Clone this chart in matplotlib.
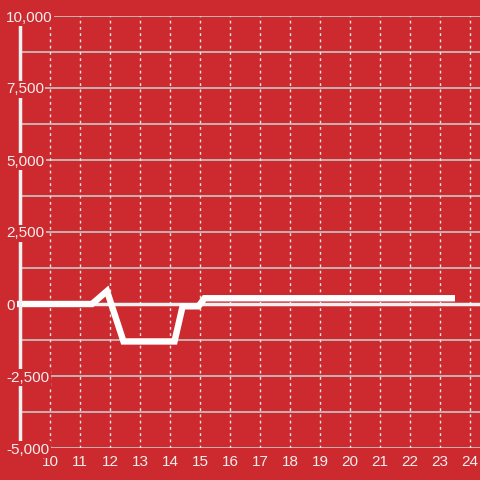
import matplotlib
matplotlib.use('Agg')
import matplotlib.pyplot as plt
import matplotlib.transforms as mtransforms

# data
hours = [8.9, 11.4, 11.9, 12.45, 14.15, 14.42, 14.95, 15.15, 23.5]
values = [0, 0, 450, -1300, -1300, -80, -80, 200, 200]

x_ticks = list(range(10, 25))
y_ticks = [10000, 7500, 5000, 2500, 0, -2500, -5000]
y_labels = ['10,000', '7,500', '5,000', '2,500', '0', '-2,500', '-5,000']
y_grid = [10000 - 1250 * i for i in range(13)]

bg = '#cc2a2f'
fg = '#f4eeee'

plt.rcParams['font.family'] = ['Liberation Sans', 'DejaVu Sans']

fig = plt.figure(figsize=(4.8, 4.8), dpi=100)
fig.patch.set_facecolor(bg)
ax = fig.add_axes([20 / 480, 32 / 480, 460 / 480, 432 / 480])
ax.set_facecolor(bg)

ax.set_xlim(9, 24 + 1 / 3)
ax.set_ylim(-5000, 10000)

# grid
for v in y_grid:
    ax.axhline(v, color='#c8c8c8', lw=1.2, zorder=1)
for t in x_ticks:
    ax.axvline(t, color='#e6e6e6', lw=1, ls=(0, (2, 2.5)), zorder=1)
ax.axhline(0, color='#f0f0f0', lw=2.5, zorder=2)

# line
ax.plot(hours, values, color='white', lw=4.6, solid_joinstyle='miter',
        solid_capstyle='butt', zorder=3, clip_on=False)

# spines / ticks
for s in ['top', 'right', 'bottom']:
    ax.spines[s].set_visible(False)
ax.spines['left'].set_color('#f0f0f0')
ax.spines['left'].set_linewidth(2.5)
ax.spines['left'].set_zorder(4)
ax.set_xticks(x_ticks)
ax.set_xticklabels([str(t) for t in x_ticks], color=fg, fontsize=11)
ax.tick_params(axis='x', length=0, pad=5)
ax.set_yticks([])

trans = mtransforms.blended_transform_factory(fig.transFigure, ax.transData)
for v, lab in zip(y_ticks, y_labels):
    ax.text(6 / 480, v, lab, transform=trans, ha='left', va='center_baseline',
            color=fg, fontsize=11, zorder=5, clip_on=False,
            bbox=dict(facecolor=bg, edgecolor='none', pad=1))

fig.savefig('out.png', dpi=100, facecolor=bg)
